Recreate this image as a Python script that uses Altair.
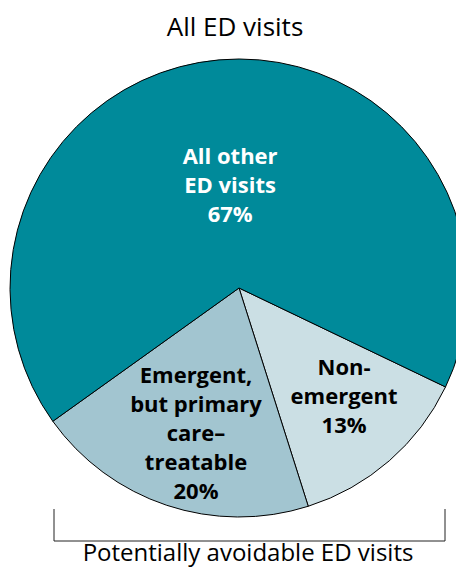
import altair as alt
import pandas as pd
import math

categories = ["Non-emergent", "Emergent, but primary care–treatable", "All other ED visits"]
labels = ["Non-\nemergent\n13%", "Emergent,\nbut primary\ncare–\ntreatable\n20%", "All other\nED visits\n67%"]
shares = [13, 20, 67]
colors = ["#CBDFE4", "#A2C5D0", "#008A9A"]
title_text = "All ED visits"
bracket_text = "Potentially avoidable ED visits"

df = pd.DataFrame({"category": categories, "label": labels, "share": shares, "idx": list(range(len(categories)))})

start = math.radians(115.6)
theta_scale = alt.Scale(domain=[0, 100], range=[start, start + 2 * math.pi])

CX, CY = 231, 280
FONT = "Open Sans"
LH = 29

base = alt.Chart(df)

arcs = base.mark_arc(outerRadius=229, stroke="black", strokeWidth=1).encode(
    theta=alt.Theta("share:Q", stack=True, scale=theta_scale),
    order=alt.Order("idx:Q"),
    color=alt.Color("category:N", scale=alt.Scale(domain=categories, range=colors), legend=None),
    x=alt.value(CX),
    y=alt.value(CY),
)

stacked = base.transform_window(
    s1="sum(share)", sort=[alt.SortField("idx")], frame=[None, 0]
).transform_calculate(
    mid="datum.s1 - datum.share / 2"
)


def label_layer(idx, radius, color, nlines, dx=0, ddy=0):
    return stacked.transform_filter(alt.datum.idx == idx).mark_text(
        font=FONT, fontSize=22, fontWeight="bold", lineBreak="\n", lineHeight=LH,
        align="center", baseline="middle", color=color,
        dx=dx, dy=-(nlines - 1) * LH / 2 + ddy,
    ).encode(
        theta=alt.Theta("mid:Q", stack=None, scale=theta_scale),
        radius=alt.value(radius),
        text="label:N",
        x=alt.value(CX),
        y=alt.value(CY),
    )


lab_other = label_layer(2, 102, "white", 3)
lab_non = label_layer(0, 151, "black", 3, dx=6, ddy=-5)
lab_emg = label_layer(1, 152, "black", 5, dx=5, ddy=2)

title = alt.Chart(pd.DataFrame({"t": [title_text]})).mark_text(
    font=FONT, fontSize=26, align="center", baseline="alphabetic", color="black"
).encode(text="t:N", x=alt.value(227), y=alt.value(28))

caption = alt.Chart(pd.DataFrame({"t": [bracket_text]})).mark_text(
    font=FONT, fontSize=24, align="center", baseline="alphabetic", color="black"
).encode(text="t:N", x=alt.value(240), y=alt.value(553))

rule_l = alt.Chart(pd.DataFrame({"a": [0]})).mark_rule(color="#222", strokeWidth=1).encode(
    x=alt.value(46), y=alt.value(501), y2=alt.value(533))
rule_r = alt.Chart(pd.DataFrame({"a": [0]})).mark_rule(color="#222", strokeWidth=1).encode(
    x=alt.value(437), y=alt.value(501), y2=alt.value(533))
rule_h = alt.Chart(pd.DataFrame({"a": [0]})).mark_rule(color="#222", strokeWidth=1).encode(
    x=alt.value(46), x2=alt.value(437), y=alt.value(533))

chart = alt.layer(arcs, lab_other, lab_non, lab_emg, title, caption, rule_l, rule_r, rule_h).properties(
    width=448, height=560, padding=0, autosize=alt.AutoSizeParams(type="none"),
).configure_view(stroke=None)

chart.save("out.html", embed_options={"renderer": "svg", "actions": False})
